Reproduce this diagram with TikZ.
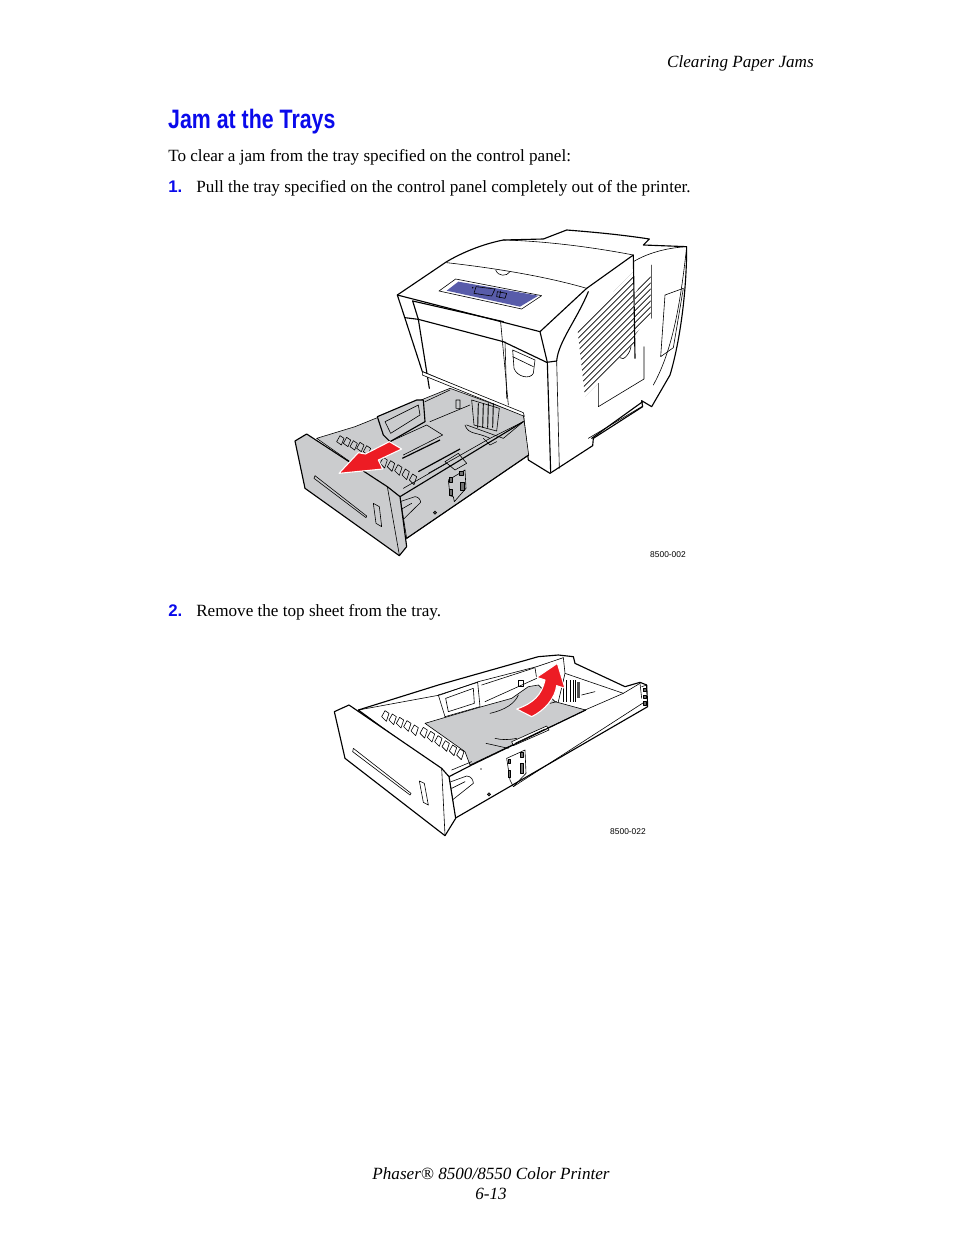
\documentclass[tikz,border=0pt]{standalone}
\usepackage{fontspec}
\setmainfont{Liberation Serif}
\newfontfamily\headfont{Liberation Sans}
\definecolor{headblue}{RGB}{10,10,235}
\definecolor{jamred}{RGB}{237,28,36}
\definecolor{traygray}{RGB}{203,204,206}
\definecolor{lcdblue}{RGB}{88,92,170}
\tikzset{
  bodytext/.style={anchor=base west,inner sep=0,font=\fontsize{12.85}{14}\selectfont},
  pagetext/.style={anchor=base,inner sep=0,font=\fontsize{12.85}{14}\selectfont\itshape},
  steptext/.style={anchor=base west,inner sep=0,text=headblue,font=\fontsize{12.6}{14}\selectfont\headfont\bfseries},
  partno/.style={anchor=base east,inner sep=0,font=\fontsize{6.3}{8}\selectfont\headfont},
  ln/.style={line width=.85pt,line join=round,line cap=round},
  lnthin/.style={line width=.45pt,line join=round,line cap=round},
  redarrow/.style={fill=jamred,draw=white,line width=.8pt,line join=round}
}
\begin{document}
\begin{tikzpicture}[x=.75pt,y=-.75pt]
\useasboundingbox (0,0) rectangle (954,1235);
\fill[white] (0,0) rectangle (954,1235);

\node[pagetext,anchor=base east] (header) at (814,67) {Clearing Paper Jams};
\node[anchor=base west,inner sep=0,text=headblue,xscale=.8,font=\fontsize{20}{24}\selectfont\headfont\bfseries] (title) at (168,128) {Jam at the Trays};
\node[bodytext] (intro) at (168,161) {To clear a jam from the tray specified on the control panel:};
\node[steptext] (numone) at (168,192) {1.};
\node[bodytext] (stepone) at (196,192) {Pull the tray specified on the control panel completely out of the printer.};
\node[steptext] (numtwo) at (168,616) {2.};
\node[bodytext] (steptwo) at (196,616) {Remove the top sheet from the tray.};
\node[partno] (partone) at (686,557) {8500-002};
\node[partno] (parttwo) at (646,834) {8500-022};
\node[pagetext] (footone) at (491,1179) {Phaser\textregistered{} 8500/8550 Color Printer};
\node[pagetext] (foottwo) at (491,1199) {6-13};

\begin{scope}[shift={(290,225)},x=.25pt,y=-.25pt]
\fill[white,draw=black,ln] (322,210) -- (470,110) .. controls (530,75) and (590,55) .. (640,45) -- (760,42) -- (830,15) .. controls (920,22) and (1000,30) .. (1078,42) -- (1060,60) -- (1190,65) .. controls (1190,200) and (1170,350) .. (1140,450) -- (1085,545) -- (1055,527) -- (1058,545) -- (910,640) -- (908,662) -- (780,745) -- (715,705) -- (700,570) -- (397,440) -- (345,280) -- cycle;
\draw[ln] (322,210) -- (750,320) -- (890,190);
\draw[lnthin] (470,113) .. controls (620,130) and (770,155) .. (890,190);
\draw[lnthin] (617,135) .. controls (625,155) and (650,155) .. (660,140);
\draw[lnthin] (640,45) .. controls (760,48) and (900,65) .. (1030,90);
\draw[ln] (890,190) -- (1030,90) -- (1035,400);
\draw[lnthin] (1030,110) .. controls (1080,80) and (1140,68) .. (1190,65);
\fill[white,draw=black,lnthin] (447,198) -- (497,162) -- (755,212) -- (695,252) -- cycle;
\fill[lcdblue] (470,197) -- (505,170) -- (745,212) -- (690,245) -- cycle;
\draw[lnthin] (558,185) -- (615,192) -- (605,213) -- (552,205) -- cycle;
\draw[lnthin] (622,200) -- (650,205) -- (645,220) -- (620,215) -- cycle (632,198) -- (628,218);
\fill (548,188) circle (2.5);
\draw[ln] (368,228) -- (385,283);
\draw[ln] (368,228) -- (640,290);
\draw[ln] (345,278) -- (385,283) -- (640,350) -- (770,412) -- (800,408);
\draw[ln] (385,283) -- (418,490);
\draw[lnthin] (632,292) -- (655,540);
\draw[lnthin] (645,350) -- (650,520);
\draw[ln] (750,320) -- (772,412) -- (782,742);
\draw[lnthin] (800,408) -- (808,730);
\draw[ln] (895,200) .. controls (860,285) and (805,350) .. (800,408);
\draw[lnthin] (668,375) -- (735,405) -- (730,445) .. controls (720,465) and (680,455) .. (672,430) -- cycle;
\draw[lnthin] (668,395) -- (730,425);
\draw[lnthin] (925,475) -- (925,545) -- (1062,462) -- (1062,365);
\draw[lnthin] (990,398) .. controls (1000,410) and (1020,385) .. (1023,365);
\draw[lnthin] (1125,210) -- (1180,190) -- (1150,368) -- (1112,395) -- cycle;
\draw[lnthin] (1085,120) -- (1085,280) (1190,65) .. controls (1170,250) and (1145,380) .. (1090,480);
\draw[ln] (905,640) -- (1058,530);
\draw[lnthin] (895,640) -- (1055,545);
\begin{scope}
\clip (862,310) -- (1030,140) -- (1033,365) -- (885,515) -- cycle;
\foreach \yy in {300,318,...,720}
  \draw[line width=.6pt] (850,\yy) -- (1040,\yy-190);
\end{scope}
\begin{scope}
\clip (1035,205) -- (1082,142) -- (1082,270) -- (1035,330) -- cycle;
\foreach \yy in {190,208,...,400}
  \draw[line width=.6pt] (1030,\yy) -- (1090,\yy-60);
\end{scope}
% tray
\fill[traygray,draw=black,lnthin] (80,640) -- (195,605) -- (480,490) -- (700,570) -- (716,690) -- (350,940) -- (330,815) -- cycle;
\draw[ln] (350,940) -- (716,690);
\fill[white,draw=black,lnthin] (397,440) -- (700,563) -- (703,574) -- (397,450) -- cycle;
\fill[traygray,draw=black,ln] (262,575) -- (380,525) -- (400,525) -- (405,590) -- (300,650) -- (280,630) -- cycle;
\draw[lnthin] (285,590) -- (385,540) -- (390,570) -- (302,625) -- cycle;
\draw[lnthin] (300,650) -- (410,600) -- (458,630) -- (340,690);
\draw[lnthin] (405,530) -- (480,495) (420,590) -- (540,540) (498,525) rectangle (510,550);
\draw[line width=.9pt] (385,740) -- (510,672) (337,700) -- (450,645);
\draw[lnthin] (415,745) -- (600,640) -- (700,590);
\draw[lnthin] (465,710) -- (505,685) -- (530,715) -- (495,735) -- cycle;
\draw[lnthin] (530,600) -- (640,640) -- (700,590) (525,600) .. controls (535,630) and (560,620) .. (600,640);
\draw[lnthin] (580,640) -- (600,660) -- (620,650);
\fill[traygray,draw=black,lnthin] (545,525) -- (628,550) -- (620,618) -- (552,600) -- cycle;
\foreach \xx in {565,580,595,610}
  \draw[line width=.7pt] (\xx,535) -- (\xx-2,608);
\foreach \xx/\yy in {140/650,160/655,180/665,200/670,220/680}
  \draw[fill=traygray,lnthin] (\xx,\yy) -- (\xx+10,\yy-18) -- (\xx+22,\yy-10) -- (\xx+14,\yy+10) -- cycle;
\foreach \xx/\yy in {270/715,292/725,314/737,336/750,358/765}
  \draw[fill=traygray,lnthin] (\xx,\yy) -- (\xx+10,\yy-18) -- (\xx+22,\yy-10) -- (\xx+14,\yy+14) -- cycle;
\draw[ln] (330,815) -- (700,590);
\draw[lnthin] (340,790) -- (470,715);
\draw[lnthin] (475,765) -- (525,735) -- (528,790) -- (493,830) -- (490,815) -- (480,812) -- cycle;
\draw[fill=black!55,lnthin] (479,758) rectangle (487,772) (509,740) rectangle (519,752) (512,772) rectangle (523,795) (479,792) rectangle (487,812);
\draw[lnthin] (330,830) -- (375,815) .. controls (385,815) and (392,825) .. (392,832) -- (338,885);
\draw[lnthin] (330,855) -- (365,835);
\draw[fill=black!70] (435,863) circle (5);
\fill[traygray,draw=black,ln] (15,648) -- (50,627) -- (292,785) -- (330,815) -- (350,965) -- (328,992) -- (45,790) -- cycle;
\draw[lnthin] (292,785) -- (328,990);
\draw[lnthin] (75,752) -- (230,873) -- (228,878) -- (72,760) -- cycle;
\draw[lnthin] (250,835) -- (268,845) -- (275,905) -- (258,895) -- cycle;
\draw[redarrow] (298,650) -- (335,672) -- (265,705) -- (278,732) -- (147,745) -- (205,683) -- (226,687) -- cycle;
\end{scope}

\begin{scope}[shift={(325,645)},x=.25pt,y=-.25pt]
\fill[white,draw=black,ln] (100,195) -- (340,120) -- (640,35) -- (700,30) -- (745,35) -- (750,55) -- (900,125) -- (945,112) -- (965,120) -- (968,185) -- (390,520) -- (372,395) -- cycle;
\draw[lnthin] (100,195) -- (345,150) -- (460,110) -- (635,65) -- (715,38);
\draw[lnthin] (715,38) -- (720,85) -- (895,145) -- (945,115);
\draw[lnthin] (340,150) -- (458,112) -- (465,185) -- (360,215) -- cycle;
\draw[lnthin] (362,160) -- (445,130) -- (448,175) -- (370,200) -- cycle;
\draw[lnthin] (470,120) -- (630,68) -- (635,100) -- (480,170);
\draw[lnthin] (580,105) rectangle (595,125);
\draw[lnthin] (770,150) -- (810,140);
\draw[lnthin] (720,85) -- (700,170) (780,195) -- (895,145);
\foreach \xx in {715,725,735,745,752}
  \draw[line width=.7pt] (\xx,105) -- (\xx,170);
\fill[black!70] (757,110) rectangle (765,160);
\fill[traygray,draw=black,lnthin] (300,235) -- (470,185) -- (560,160) -- (610,125) -- (640,120) -- (690,170) -- (782,195) -- (435,360) -- (420,320) -- cycle;
\draw[lnthin] (495,205) .. controls (540,195) and (570,175) .. (580,150);
\draw[lnthin] (510,280) .. controls (530,285) and (550,285) .. (575,280);
\draw[lnthin] (483,295) -- (550,310);
\draw[lnthin] (675,175) -- (695,170);
\draw[fill=white,lnthin] (560,290) -- (665,243) -- (672,255) -- (565,302) -- cycle;
\draw[lnthin] (570,295) -- (660,252);
\foreach \xx/\yy in {170/215,192/225,214/235,236/245,258/258}
  \draw[fill=white,lnthin] (\xx,\yy) -- (\xx+10,\yy-18) -- (\xx+22,\yy-10) -- (\xx+14,\yy+14) -- cycle;
\foreach \xx/\yy in {285/265,307/277,329/290,351/305,373/318,395/330}
  \draw[fill=white,lnthin] (\xx,\yy) -- (\xx+10,\yy-18) -- (\xx+22,\yy-10) -- (\xx+14,\yy+14) -- cycle;
\draw[ln] (372,395) -- (440,360) -- (782,195);
\draw[lnthin] (380,375) -- (440,350);
\draw[lnthin] (545,340) -- (600,315) -- (603,385) -- (565,425) -- (555,405) -- cycle;
\draw[lnthin] (565,425) -- (960,170);
\draw[fill=black!55,lnthin] (549,342) rectangle (557,356) (586,322) rectangle (596,336) (586,354) rectangle (596,384) (549,376) rectangle (557,398);
\draw[lnthin] (378,410) -- (425,393) .. controls (438,393) and (445,405) .. (445,415) -- (382,465);
\draw[lnthin] (380,430) -- (420,410);
\draw[fill=black!70] (492,448) circle (5);
\draw[lnthin] (468,372) circle (1.5);
\fill[white,draw=black,ln] (28,200) -- (72,180) -- (350,370) -- (372,395) -- (392,520) -- (360,572) -- (60,340) -- cycle;
\draw[lnthin] (350,370) -- (360,570);
\draw[lnthin] (85,310) -- (258,445) -- (255,450) -- (83,320) -- cycle;
\draw[lnthin] (283,408) -- (298,415) -- (310,480) -- (295,472) -- cycle;
\draw[lnthin] (945,115) -- (950,160) (950,125) -- (965,120);
\foreach \yy in {130,150,170}
  \draw[fill=black!60,lnthin] (955,\yy) rectangle (965,\yy+10);
\draw[redarrow] (575,192) .. controls (625,175) and (650,150) .. (660,105) -- (635,97) -- (697,55) -- (720,130) -- (695,122) .. controls (690,160) and (660,195) .. (620,215) -- cycle;
\end{scope}
\end{tikzpicture}
\end{document}
